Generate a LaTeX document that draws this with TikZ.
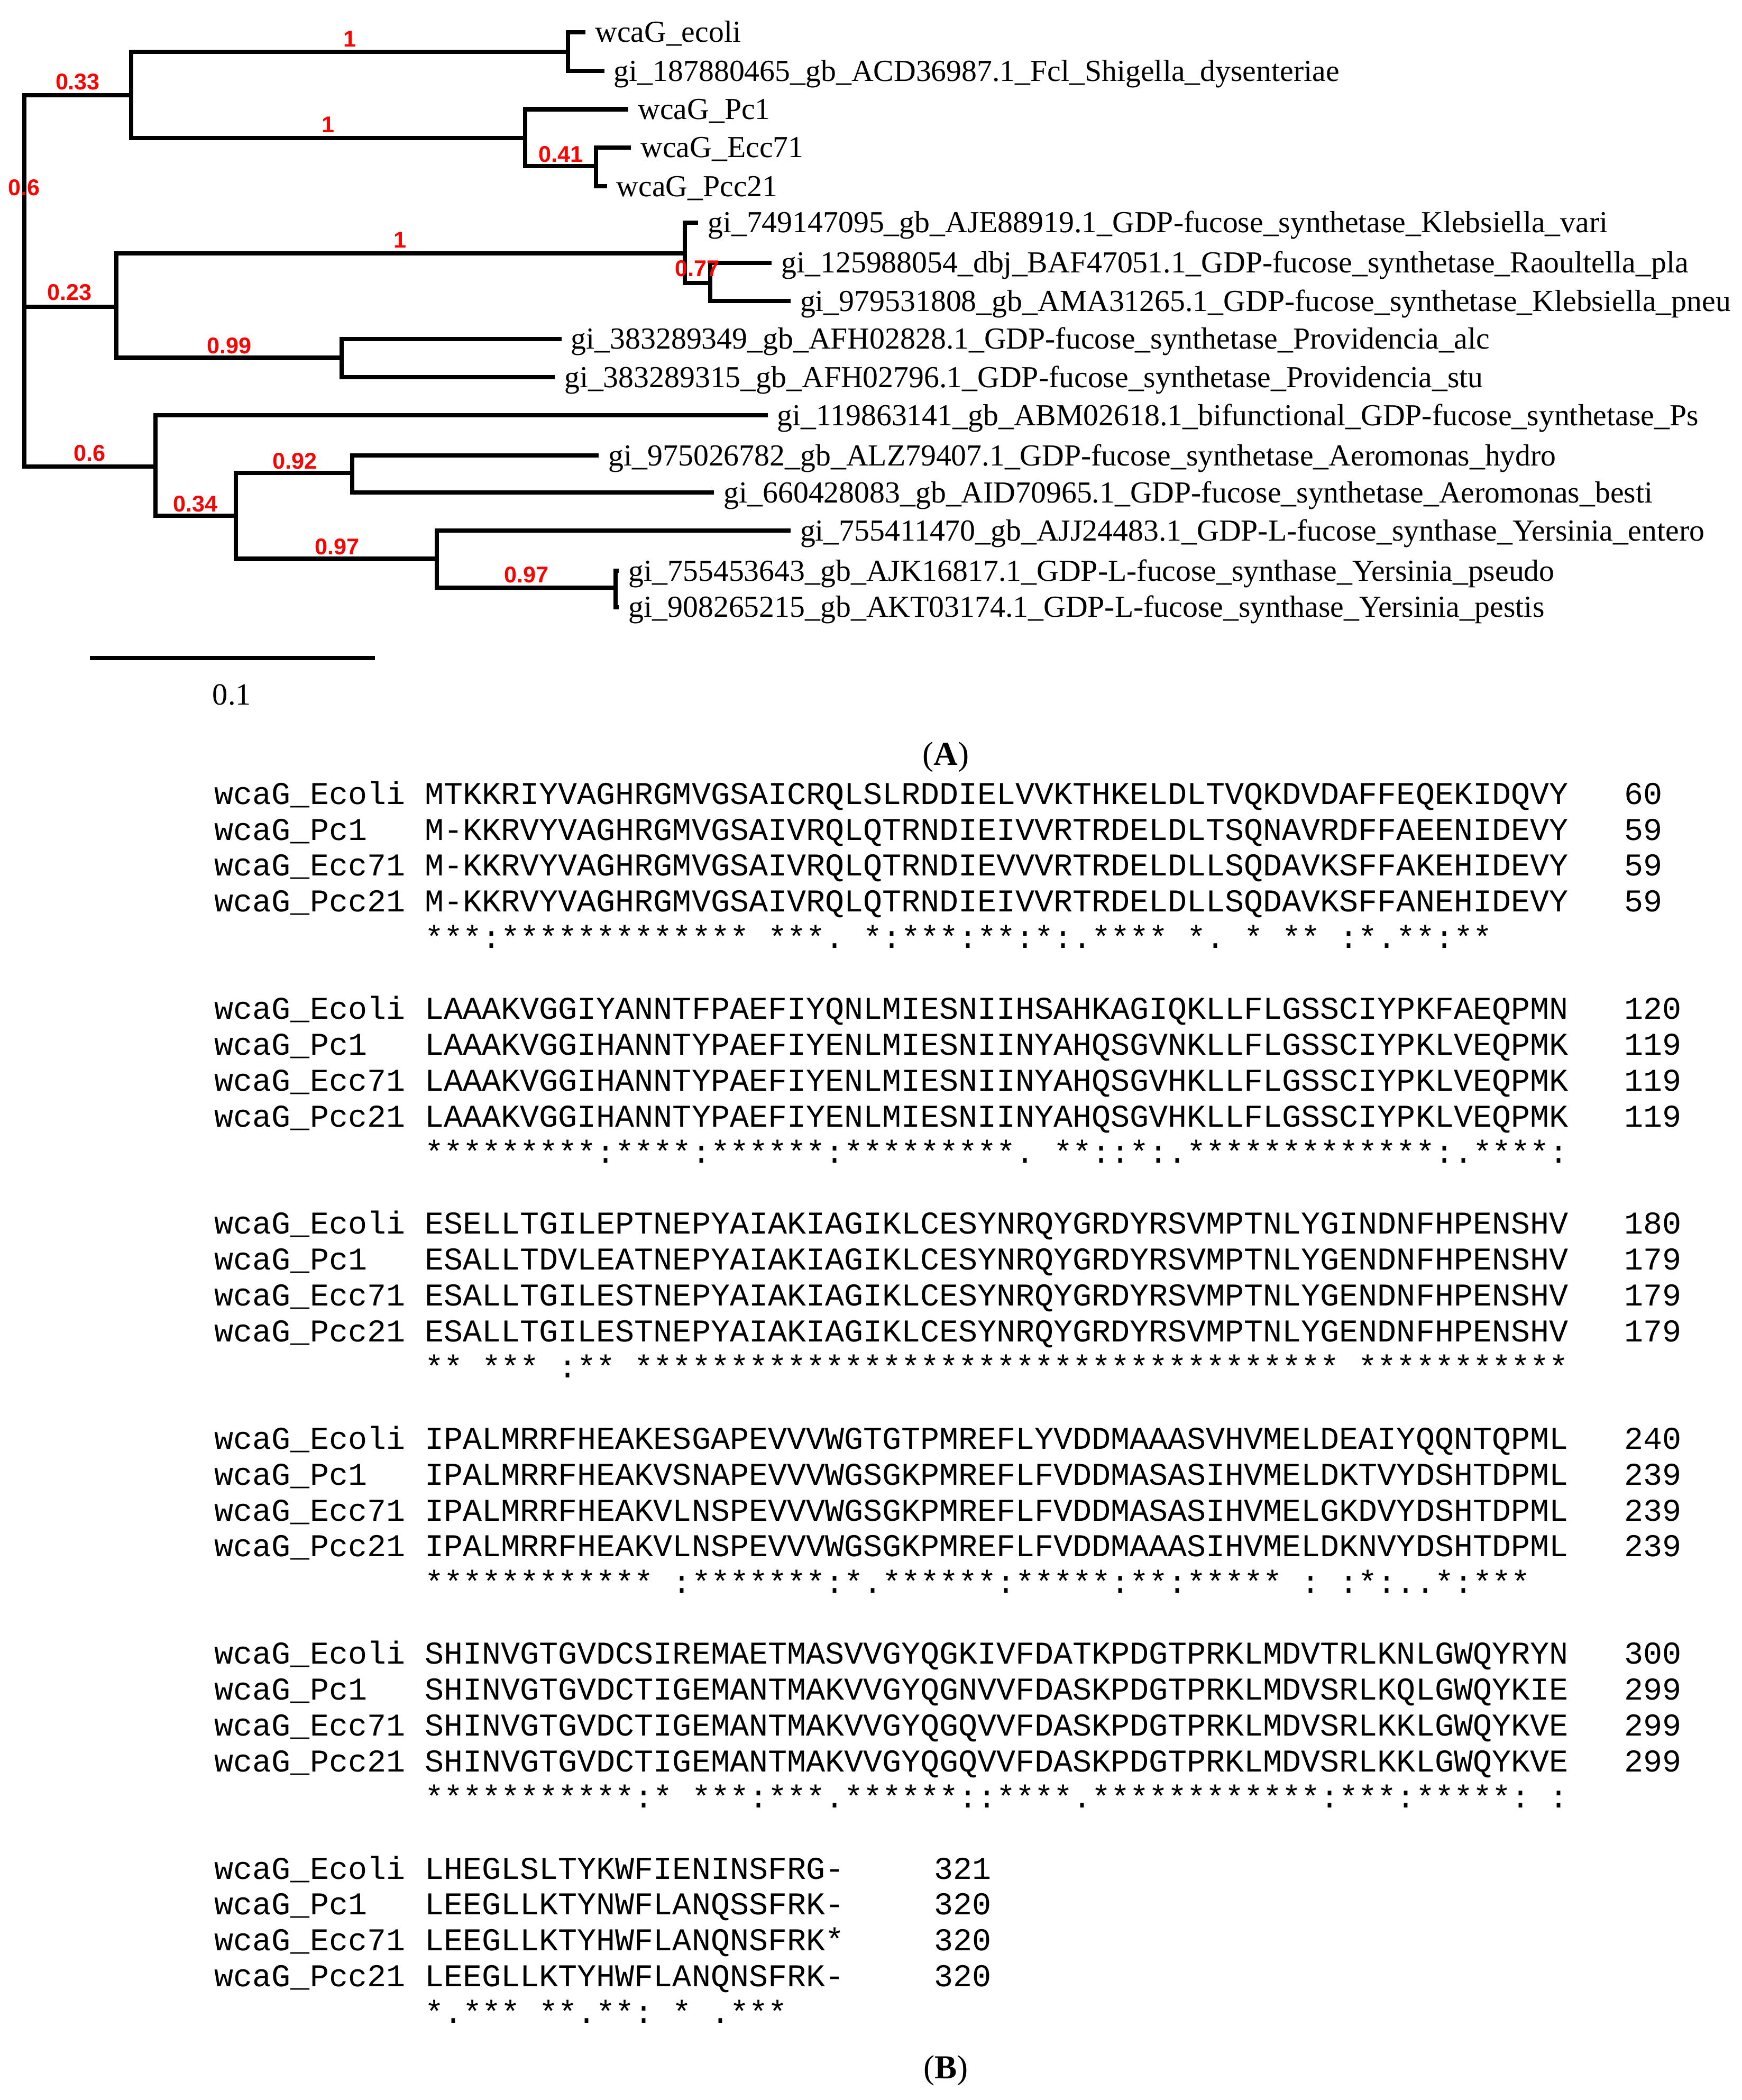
\documentclass[tikz,border=0pt]{standalone}
\usepackage{fontspec}
\setmainfont{Liberation Serif}
\setmonofont{Liberation Mono}
\newfontfamily\lsans{Liberation Sans}
\newcommand\gap{\hphantom{*}}
\tikzset{
  branch/.style={line width=3.2pt},
  leaf/.style={anchor=base west,inner sep=0pt,font=\fontsize{22.8}{23}\selectfont},
  supp/.style={inner sep=0pt,text=red,font=\lsans\bfseries\fontsize{17}{17}\selectfont},
  seqtxt/.style={anchor=base west,inner sep=0pt,font=\ttfamily\fontsize{23.7}{23.7}\selectfont},
  panel/.style={inner sep=0pt,anchor=base,font=\fontsize{25}{25}\selectfont}
}
\begin{document}
\begin{tikzpicture}[x=1pt,y=-1pt]
\useasboundingbox[fill=white] (0,0) rectangle (1300,1567);
% internal nodes
\coordinate (R) at (18,229);
\coordinate (c1) at (98,71);
\coordinate (a) at (424,38.7);
\coordinate (b) at (392,103);
\coordinate (d) at (445,124);
\coordinate (c2) at (87,229);
\coordinate (e) at (511,189);
\coordinate (g) at (530,211);
\coordinate (f) at (255,267);
\coordinate (c3) at (116,348);
\coordinate (h) at (176,385);
\coordinate (i) at (263,353);
\coordinate (j) at (326,417);
\coordinate (k) at (459.5,438.5);
% leaves
\coordinate (L1) at (437,24);
\coordinate (L2) at (451,53);
\coordinate (L3) at (469,81.5);
\coordinate (L4) at (471,110);
\coordinate (L5) at (453,139);
\coordinate (L6) at (521,166);
\coordinate (L7) at (576,196);
\coordinate (L8) at (590,224.6);
\coordinate (L9) at (419,253);
\coordinate (L10) at (414,281.5);
\coordinate (L11) at (573,310);
\coordinate (L12) at (447,340);
\coordinate (L13) at (533,367.5);
\coordinate (L14) at (590,396);
\coordinate (L15) at (462,426);
\coordinate (L16) at (462,453);
% branches
\draw[branch] (R) |- (c1); \draw[branch] (R) |- (c2); \draw[branch] (R) |- (c3);
\draw[branch] (c1) |- (a); \draw[branch] (c1) |- (b);
\draw[branch] (a) |- (L1); \draw[branch] (a) |- (L2);
\draw[branch] (b) |- (L3); \draw[branch] (b) |- (d);
\draw[branch] (d) |- (L4); \draw[branch] (d) |- (L5);
\draw[branch] (c2) |- (e); \draw[branch] (c2) |- (f);
\draw[branch] (e) |- (L6); \draw[branch] (e) |- (g);
\draw[branch] (g) |- (L7); \draw[branch] (g) |- (L8);
\draw[branch] (f) |- (L9); \draw[branch] (f) |- (L10);
\draw[branch] (c3) |- (L11); \draw[branch] (c3) |- (h);
\draw[branch] (h) |- (i); \draw[branch] (h) |- (j);
\draw[branch] (i) |- (L12); \draw[branch] (i) |- (L13);
\draw[branch] (j) |- (L14); \draw[branch] (j) |- (k);
\draw[branch] (k) |- (L15); \draw[branch] (k) |- (L16);
% leaf labels
\tikzset{lsh/.style={xshift=7pt,yshift=-7.5pt}}
\node[leaf] (t1) at ([lsh]L1) {wcaG\_ecoli};
\node[leaf] (t2) at ([lsh]L2) {gi\_187880465\_gb\_ACD36987.1\_Fcl\_Shigella\_dysenteriae};
\node[leaf] (t3) at ([lsh]L3) {wcaG\_Pc1};
\node[leaf] (t4) at ([lsh]L4) {wcaG\_Ecc71};
\node[leaf] (t5) at ([lsh]L5) {wcaG\_Pcc21};
\node[leaf] (t6) at ([lsh]L6) {gi\_749147095\_gb\_AJE88919.1\_GDP-fucose\_synthetase\_Klebsiella\_vari};
\node[leaf] (t7) at ([lsh]L7) {gi\_125988054\_dbj\_BAF47051.1\_GDP-fucose\_synthetase\_Raoultella\_pla};
\node[leaf] (t8) at ([lsh]L8) {gi\_979531808\_gb\_AMA31265.1\_GDP-fucose\_synthetase\_Klebsiella\_pneu};
\node[leaf] (t9) at ([lsh]L9) {gi\_383289349\_gb\_AFH02828.1\_GDP-fucose\_synthetase\_Providencia\_alc};
\node[leaf] (t10) at ([lsh]L10) {gi\_383289315\_gb\_AFH02796.1\_GDP-fucose\_synthetase\_Providencia\_stu};
\node[leaf] (t11) at ([lsh]L11) {gi\_119863141\_gb\_ABM02618.1\_bifunctional\_GDP-fucose\_synthetase\_Ps};
\node[leaf] (t12) at ([lsh]L12) {gi\_975026782\_gb\_ALZ79407.1\_GDP-fucose\_synthetase\_Aeromonas\_hydro};
\node[leaf] (t13) at ([lsh]L13) {gi\_660428083\_gb\_AID70965.1\_GDP-fucose\_synthetase\_Aeromonas\_besti};
\node[leaf] (t14) at ([lsh]L14) {gi\_755411470\_gb\_AJJ24483.1\_GDP-L-fucose\_synthase\_Yersinia\_entero};
\node[leaf] (t15) at ([lsh]L15) {gi\_755453643\_gb\_AJK16817.1\_GDP-L-fucose\_synthase\_Yersinia\_pseudo};
\node[leaf] (t16) at ([lsh]L16) {gi\_908265215\_gb\_AKT03174.1\_GDP-L-fucose\_synthase\_Yersinia\_pestis};
% support values
\node[supp] (s1) at (261,29) {1};
\node[supp] (s2) at (58,61) {0.33};
\node[supp] (s3) at (245,93) {1};
\node[supp] (s4) at (418.6,115) {0.41};
\node[supp] (s5) at (18,140) {0.6};
\node[supp] (s6) at (298.6,179) {1};
\node[supp] (s7) at (52,218) {0.23};
\node[supp] (s8) at (520.5,200.5) {0.77};
\node[supp] (s9) at (171,258) {0.99};
\node[supp] (s10) at (67,338) {0.6};
\node[supp] (s11) at (220,344) {0.92};
\node[supp] (s12) at (146,376) {0.34};
\node[supp] (s13) at (251.5,408) {0.97};
\node[supp] (s14) at (393,429) {0.97};
% scale bar
\coordinate (sb1) at (67,491);
\coordinate (sb2) at (280,491);
\draw[line width=3pt] (sb1) -- (sb2);
\node[panel,font=\fontsize{23}{23}\selectfont] (sbl) at (173,526) {0.1};
% panel labels
\node[panel] (pA) at (706,571) {(\textbf{A})};
\node[panel] (pB) at (706,1551) {(\textbf{B})};
% alignment
\newcommand\arow[5]{%
  \node[seqtxt] at (160,{600+160.4*#1+26.8*#2}) {#3};
  \node[seqtxt] at (317,{600+160.4*#1+26.8*#2}) {#4};
  \node[seqtxt] at (1212,{600+160.4*#1+26.8*#2}) {#5};}
\newcommand\crow[2]{\node[seqtxt] at (317,{600+160.4*#1+26.8*3+27}) {#2};}
\arow{0}{0}{wcaG\_Ecoli}{MTKKRIYVAGHRGMVGSAICRQLSLRDDIELVVKTHKELDLTVQKDVDAFFEQEKIDQVY}{60}
\arow{0}{1}{wcaG\_Pc1}{M-KKRVYVAGHRGMVGSAIVRQLQTRNDIEIVVRTRDELDLTSQNAVRDFFAEENIDEVY}{59}
\arow{0}{2}{wcaG\_Ecc71}{M-KKRVYVAGHRGMVGSAIVRQLQTRNDIEVVVRTRDELDLLSQDAVKSFFAKEHIDEVY}{59}
\arow{0}{3}{wcaG\_Pcc21}{M-KKRVYVAGHRGMVGSAIVRQLQTRNDIEIVVRTRDELDLLSQDAVKSFFANEHIDEVY}{59}
\crow{0}{***:*************\gap***.\gap*:***:**:*:.****\gap*.\gap*\gap**\gap:*.**:**}
\arow{1}{0}{wcaG\_Ecoli}{LAAAKVGGIYANNTFPAEFIYQNLMIESNIIHSAHKAGIQKLLFLGSSCIYPKFAEQPMN}{120}
\arow{1}{1}{wcaG\_Pc1}{LAAAKVGGIHANNTYPAEFIYENLMIESNIINYAHQSGVNKLLFLGSSCIYPKLVEQPMK}{119}
\arow{1}{2}{wcaG\_Ecc71}{LAAAKVGGIHANNTYPAEFIYENLMIESNIINYAHQSGVHKLLFLGSSCIYPKLVEQPMK}{119}
\arow{1}{3}{wcaG\_Pcc21}{LAAAKVGGIHANNTYPAEFIYENLMIESNIINYAHQSGVHKLLFLGSSCIYPKLVEQPMK}{119}
\crow{1}{*********:****:******:*********.\gap**::*:.*************:.****:}
\arow{2}{0}{wcaG\_Ecoli}{ESELLTGILEPTNEPYAIAKIAGIKLCESYNRQYGRDYRSVMPTNLYGINDNFHPENSHV}{180}
\arow{2}{1}{wcaG\_Pc1}{ESALLTDVLEATNEPYAIAKIAGIKLCESYNRQYGRDYRSVMPTNLYGENDNFHPENSHV}{179}
\arow{2}{2}{wcaG\_Ecc71}{ESALLTGILESTNEPYAIAKIAGIKLCESYNRQYGRDYRSVMPTNLYGENDNFHPENSHV}{179}
\arow{2}{3}{wcaG\_Pcc21}{ESALLTGILESTNEPYAIAKIAGIKLCESYNRQYGRDYRSVMPTNLYGENDNFHPENSHV}{179}
\crow{2}{**\gap***\gap:**\gap*************************************\gap***********}
\arow{3}{0}{wcaG\_Ecoli}{IPALMRRFHEAKESGAPEVVVWGTGTPMREFLYVDDMAAASVHVMELDEAIYQQNTQPML}{240}
\arow{3}{1}{wcaG\_Pc1}{IPALMRRFHEAKVSNAPEVVVWGSGKPMREFLFVDDMASASIHVMELDKTVYDSHTDPML}{239}
\arow{3}{2}{wcaG\_Ecc71}{IPALMRRFHEAKVLNSPEVVVWGSGKPMREFLFVDDMASASIHVMELGKDVYDSHTDPML}{239}
\arow{3}{3}{wcaG\_Pcc21}{IPALMRRFHEAKVLNSPEVVVWGSGKPMREFLFVDDMAAASIHVMELDKNVYDSHTDPML}{239}
\crow{3}{************\gap:*******:*.******:*****:**:*****\gap:\gap:*:..*:***}
\arow{4}{0}{wcaG\_Ecoli}{SHINVGTGVDCSIREMAETMASVVGYQGKIVFDATKPDGTPRKLMDVTRLKNLGWQYRYN}{300}
\arow{4}{1}{wcaG\_Pc1}{SHINVGTGVDCTIGEMANTMAKVVGYQGNVVFDASKPDGTPRKLMDVSRLKQLGWQYKIE}{299}
\arow{4}{2}{wcaG\_Ecc71}{SHINVGTGVDCTIGEMANTMAKVVGYQGQVVFDASKPDGTPRKLMDVSRLKKLGWQYKVE}{299}
\arow{4}{3}{wcaG\_Pcc21}{SHINVGTGVDCTIGEMANTMAKVVGYQGQVVFDASKPDGTPRKLMDVSRLKKLGWQYKVE}{299}
\crow{4}{***********:*\gap***:***.******::****.************:***:*****:\gap:}
\newcommand\lrow[4]{%
  \node[seqtxt] at (160,{600+160.4*5+26.8*#1}) {#2};
  \node[seqtxt] at (317,{600+160.4*5+26.8*#1}) {#3};
  \node[seqtxt] at (697,{600+160.4*5+26.8*#1}) {#4};}
\lrow{0}{wcaG\_Ecoli}{LHEGLSLTYKWFIENINSFRG-}{321}
\lrow{1}{wcaG\_Pc1}{LEEGLLKTYNWFLANQSSFRK-}{320}
\lrow{2}{wcaG\_Ecc71}{LEEGLLKTYHWFLANQNSFRK*}{320}
\lrow{3}{wcaG\_Pcc21}{LEEGLLKTYHWFLANQNSFRK-}{320}
\crow{5}{*.***\gap**.**:\gap*\gap.***}
\end{tikzpicture}
\end{document}
